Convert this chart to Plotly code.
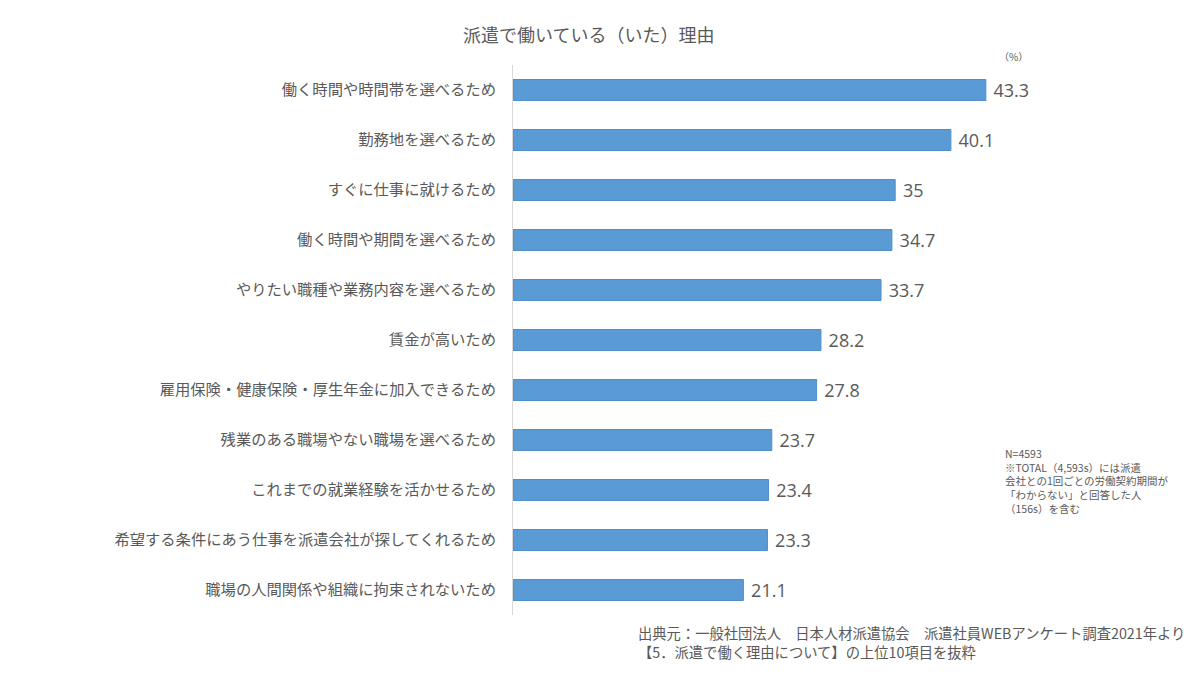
import plotly.graph_objects as go

# 派遣で働いている（いた）理由 (%)
reasons = [
    "働く時間や時間帯を選べるため",
    "勤務地を選べるため",
    "すぐに仕事に就けるため",
    "働く時間や期間を選べるため",
    "やりたい職種や業務内容を選べるため",
    "賃金が高いため",
    "雇用保険・健康保険・厚生年金に加入できるため",
    "残業のある職場やない職場を選べるため",
    "これまでの就業経験を活かせるため",
    "希望する条件にあう仕事を派遣会社が探してくれるため",
    "職場の人間関係や組織に拘束されないため",
]
percent = [43.3, 40.1, 35, 34.7, 33.7, 28.2, 27.8, 23.7, 23.4, 23.3, 21.1]

note_text = ("N=4593<br>※TOTAL（4,593s）には派遣<br>会社との1回ごとの労働契約期間が<br>"
             "「わからない」と回答した人<br>（156s）を含む")
source_text = ("出典元：一般社団法人　日本人材派遣協会　派遣社員WEBアンケート調査2021年より<br>"
               "【5．派遣で働く理由について】の上位10項目を抜粋")

font_jp = "Noto Sans CJK JP"
grey = "#595959"

# page body adds 8px around the figure, so plot area is shifted by that
plot_w = 546
plot_h = 550

fig = go.Figure()
fig.add_trace(go.Bar(
    x=percent, y=reasons, orientation="h",
    marker=dict(color="#5B9BD5", line=dict(color="#4F8FC9", width=1)),
    width=0.42,
    text=[" " + str(v) for v in percent],
    textposition="outside",
    constraintext="none",
    textfont=dict(size=18, color=grey, family="Open Sans"),
    cliponaxis=False,
    hoverinfo="skip",
))

fig.update_xaxes(range=[0, 50], visible=False)
fig.update_yaxes(autorange="reversed", showline=True, linecolor="#D9D9D9", linewidth=1,
                 ticks="", ticklabelstandoff=13,
                 tickfont=dict(size=15.3, color=grey, family=font_jp))

fig.update_layout(
    width=1200, height=675,
    margin=dict(l=505, r=149, t=57, b=68, autoexpand=False),
    plot_bgcolor="white", paper_bgcolor="white",
    showlegend=False,
    font=dict(family=font_jp, color=grey),
)

fig.add_annotation(text="派遣で働いている（いた）理由", xref="paper", yref="paper",
                   x=(588 - 513) / plot_w, y=1 + 31 / plot_h, xanchor="center", yanchor="middle",
                   showarrow=False, font=dict(size=18, color=grey))
fig.add_annotation(text="（%）", xref="paper", yref="paper",
                   x=(1030 - 513) / plot_w, y=1 + 9 / plot_h, xanchor="right", yanchor="middle",
                   showarrow=False, font=dict(size=10, color=grey))
fig.add_annotation(text=note_text, xref="paper", yref="paper",
                   x=(1003 - 513) / plot_w, y=1 - (444 - 65) / plot_h, xanchor="left", yanchor="top",
                   align="left", showarrow=False, font=dict(size=10.5, color=grey))
fig.add_annotation(text=source_text, xref="paper", yref="paper",
                   x=(636 - 513) / plot_w, y=-(620 - 615) / plot_h, xanchor="left", yanchor="top",
                   align="left", showarrow=False, font=dict(size=14.3, color=grey))

fig.write_html("out.html")
